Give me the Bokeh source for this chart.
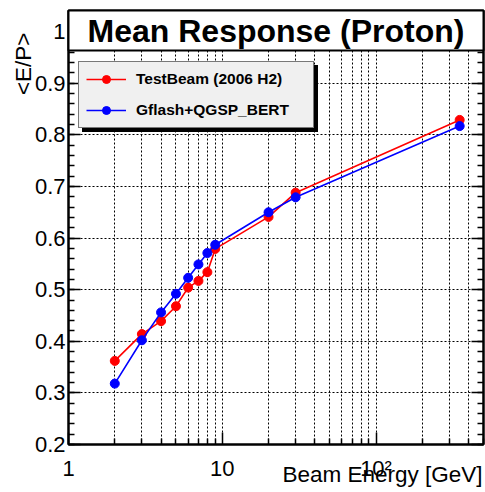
import math
from bokeh.plotting import figure
from bokeh.models import (FixedTicker, LinearAxis, Legend, LegendItem, Title)
from bokeh.core.properties import value
from bokeh.embed import file_html
from bokeh.resources import INLINE

# ---- data ----
energy = [2, 3, 4, 5, 6, 7, 8, 9, 20, 30, 350]
testbeam = [0.362, 0.414, 0.439, 0.468, 0.504, 0.517, 0.534, 0.579, 0.641, 0.688, 0.829]
gflash = [0.318, 0.402, 0.456, 0.492, 0.523, 0.549, 0.571, 0.587, 0.650, 0.679, 0.817]

series_labels = ["TestBeam (2006 H2)", "Gflash+QGSP_BERT"]
series_colors = ["#ff0000", "#0000ff"]

x_ticks = [1, 10, 100]
x_tick_labels = ["1", "10", "10\u00b2"]
x_minor = [2, 3, 4, 5, 6, 7, 8, 9, 20, 30, 40, 50, 60, 70, 80, 90, 200, 300, 400, 500]

y_ticks = [0.2, 0.3, 0.4, 0.5, 0.6, 0.7, 0.8, 0.9, 1.0]
y_tick_labels = ["0.2", "0.3", "0.4", "0.5", "0.6", "0.7", "0.8", "0.9", "1"]
y_minor = [round(0.2 + 0.02 * i, 2) for i in range(43)]

title_text = "Mean Response (Proton)"
x_title = "Beam Energy [GeV]"
y_title = "<E/P>"

XMIN, XMAX = 1, 500
YMIN, YMAX = 0.2, 1.041

FONT = "Liberation Sans"

W, H = 485, 492
BL, BR, BT, BB = 68, 2, 10, 48

p = figure(width=W, height=H, x_axis_type="log",
           x_range=(XMIN, XMAX), y_range=(YMIN, YMAX),
           output_backend="svg", toolbar_location=None, title=None,
           min_border_left=BL, min_border_right=BR,
           min_border_top=BT, min_border_bottom=BB)
p.background_fill_color = "white"
p.border_fill_color = "white"
p.outline_line_color = "black"
p.outline_line_width = 2

xt = FixedTicker(ticks=x_ticks, minor_ticks=x_minor)
yt = FixedTicker(ticks=y_ticks, minor_ticks=y_minor)

xax = p.xaxis[0]
yax = p.yaxis[0]
xax.ticker = xt
xax.major_label_overrides = dict(zip(x_ticks, x_tick_labels))
yax.ticker = yt
yax.major_label_overrides = dict(zip(y_ticks, y_tick_labels))

def style_axis(ax, label_size="22px", standoff=3):
    ax.axis_line_color = "black"
    ax.axis_line_width = 2
    ax.major_tick_in = 12
    ax.major_tick_out = 0
    ax.minor_tick_in = 6
    ax.minor_tick_out = 0
    ax.major_tick_line_color = "black"
    ax.minor_tick_line_color = "black"
    ax.major_tick_line_width = 1.5
    ax.minor_tick_line_width = 1.5
    ax.major_label_text_font = FONT
    ax.major_label_text_font_size = label_size
    ax.major_label_text_color = "black"
    ax.major_label_standoff = standoff

style_axis(xax, standoff=11)
style_axis(yax, standoff=3)

right = LinearAxis(ticker=yt)
style_axis(right, standoff=0)
right.major_label_overrides = {t: "" for t in y_ticks}
p.add_layout(right, "right")

# x-axis title: right-aligned at the end of the axis, overlapping the label row
p.add_layout(Title(text=x_title, align="right", vertical_align="top",
                   offset=1, standoff=-44,
                   text_font=FONT, text_font_size="22.5px",
                   text_font_style="normal", text_color="black"), "below")

# y-axis title at the top end of the axis
p.add_layout(Title(text=y_title, align="right", offset=22, standoff=-8,
                   text_font=FONT, text_font_size="22.5px",
                   text_font_style="normal", text_color="black"), "left")

# grids: dotted black
p.xgrid.ticker = xt
p.ygrid.ticker = yt
for g in (p.xgrid[0], p.ygrid[0]):
    g.grid_line_color = "black"
    g.grid_line_dash = "2 2"
    g.grid_line_width = 1
p.xgrid.minor_grid_line_color = "black"
p.xgrid.minor_grid_line_dash = "2 2"
p.xgrid.minor_grid_line_width = 1

# data
renderers = []
for ys, col in zip([testbeam, gflash], series_colors):
    rl = p.line(energy, ys, line_color=col, line_width=1.6)
    rs = p.scatter(energy, ys, size=9, fill_color=col, line_color=col)
    renderers.append([rl, rs])

# legend with shadow
def make_legend(loc, bg):
    items = [LegendItem(label=lab, renderers=rr) for lab, rr in zip(series_labels, renderers)]
    return Legend(items=items, location=loc, margin=0, padding=7, spacing=11,
                  glyph_height=20, glyph_width=40, label_height=20, label_width=170,
                  label_standoff=10,
                  label_text_font=FONT, label_text_font_size="15.5px",
                  label_text_font_style="bold", label_text_color="black",
                  background_fill_color=bg, background_fill_alpha=1.0,
                  border_line_color="black", border_line_width=1)

p.add_layout(make_legend((14, 312), "black"))
p.add_layout(make_legend((10, 316), "#f0f0f0"))

# title box across the top of the frame
frame_h = H - BT - BB
box_frac = 40.0 / frame_h
box_bottom = YMAX - (YMAX - YMIN) * box_frac
p.quad(left=[XMIN], right=[XMAX], top=[YMAX], bottom=[box_bottom],
       fill_color="white", line_color="black", line_width=2, level="overlay")
p.text(x=[math.sqrt(XMIN * XMAX)], y=[(YMAX + box_bottom) / 2], text=[title_text],
       text_align="center", text_baseline="middle",
       text_font=value(FONT), text_font_size="32px", text_font_style="bold",
       text_color="black", level="overlay")

open("out.html", "w").write(file_html(p, INLINE))
